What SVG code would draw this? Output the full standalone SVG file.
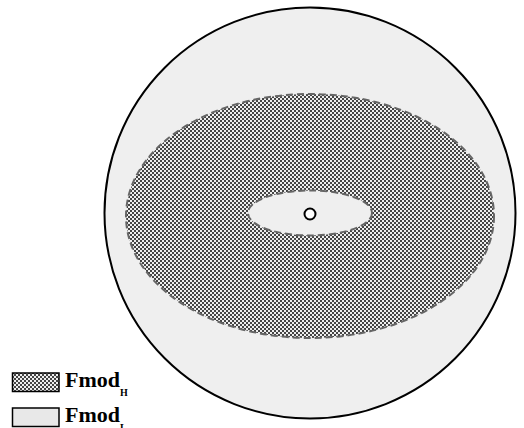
<svg xmlns="http://www.w3.org/2000/svg" width="524" height="428" viewBox="0 0 524 428">
<style>
.dash{stroke:#666;stroke-width:2;stroke-dasharray:7 4;}
.lbl{font-family:"Liberation Serif",serif;font-weight:bold;fill:#000;}
</style>
<defs>
<pattern id="dots" x="0" y="0" width="4" height="4" patternUnits="userSpaceOnUse">
<rect width="4" height="4" fill="#eeeeee"/>
<rect x="0" y="0" width="2" height="2" fill="#444"/>
<rect x="2" y="2" width="2" height="2" fill="#444"/>
</pattern>
</defs>
<rect width="524" height="428" fill="#fff"/>
<g id="outer">
<circle cx="310" cy="213" r="205.5" fill="#efefef" stroke="#000" stroke-width="2"/>
</g>
<g id="fmodH-region">
<ellipse cx="310" cy="216" rx="184" ry="122" fill="url(#dots)" class="dash"/>
</g>
<g id="fmodL-core">
<ellipse cx="310" cy="213" rx="62" ry="22.5" fill="#efefef" class="dash"/>
</g>
<g id="center">
<circle cx="310" cy="214" r="5.5" fill="#fff" stroke="#000" stroke-width="2"/>
</g>
<g id="connectors"></g>
<g id="legend-H">
<rect x="12.5" y="373" width="46.5" height="18.5" fill="url(#dots)" stroke="#000" stroke-width="1.5"/>
<text class="lbl" x="65" y="387" font-size="22">Fmod<tspan font-size="10" dy="9">H</tspan></text>
</g>
<g id="legend-L">
<rect x="12.5" y="408" width="46.5" height="18.5" fill="#e8e8e8" stroke="#000" stroke-width="1.5"/>
<text class="lbl" x="65" y="422" font-size="22">Fmod<tspan font-size="10" dy="9">L</tspan></text>
</g>
</svg>
